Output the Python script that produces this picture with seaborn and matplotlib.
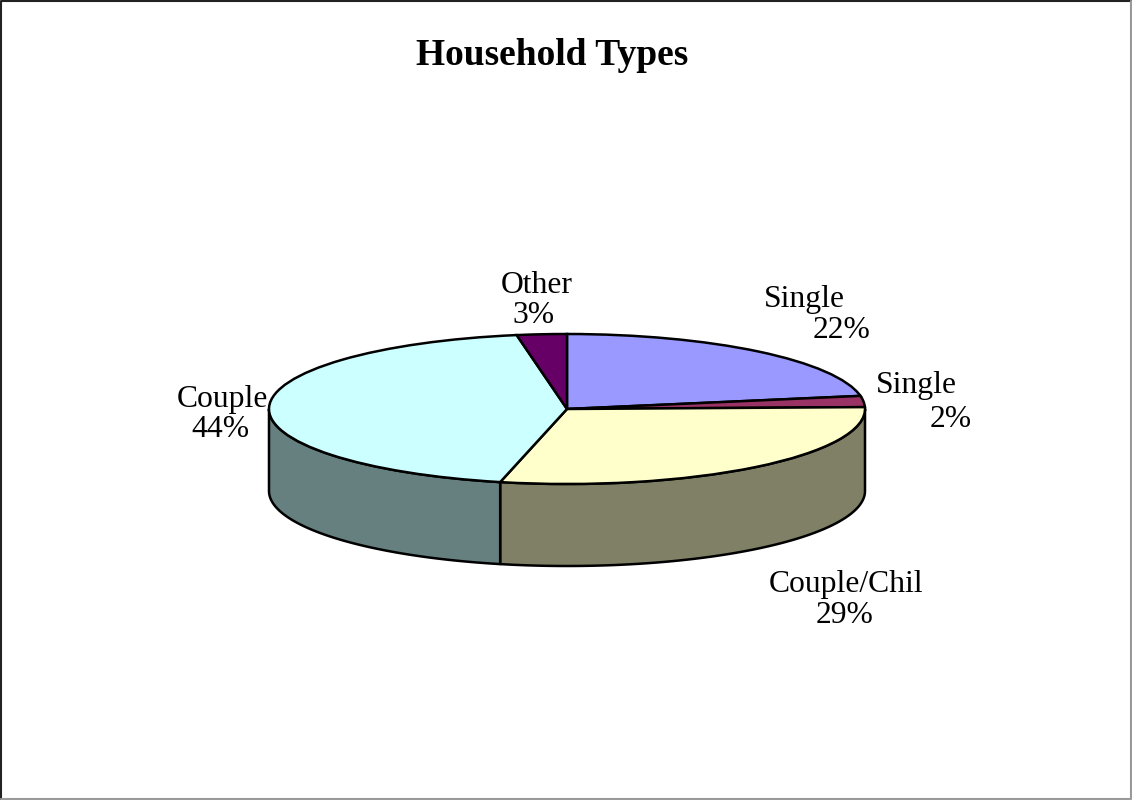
import matplotlib
matplotlib.use("Agg")
import matplotlib.pyplot as plt
import matplotlib.colors as mcolors
import numpy as np
import seaborn as sns

# ---- data ----
categories = ["Single", "Single", "Couple/Chil", "Couple", "Other"]
shares = [22.2, 2.4, 29.0, 43.7, 2.7]
slice_colors = ["#9999FF", "#993366", "#FFFFCC", "#CCFFFF", "#660066"]
title = "Household Types"

sns.set_theme(style="white")
plt.rcParams["font.family"] = ["Liberation Serif", "DejaVu Serif"]

W, H = 1132, 800
fig = plt.figure(figsize=(W / 100, H / 100), dpi=100)
fig.patch.set_facecolor("white")

# pie geometry (pixels)
cx, cy = 567, 409
rx, ry = 298, 75
depth = 82 / ry

ax = fig.add_axes([0, 0, 1, 1])
wedges, _ = ax.pie(shares, colors=slice_colors, startangle=90, counterclock=False,
                   radius=1, center=(0, 0), frame=True,
                   wedgeprops=dict(edgecolor="black", linewidth=1.8, zorder=3))
ax.set_aspect("auto")
ax.set_xlim((0 - cx) / rx, (W - cx) / rx)
ax.set_ylim((cy - H) / ry, cy / ry)
ax.axis("off")

# side walls (front half only)
vals = np.array(shares, dtype=float)
bounds = 90 - 360 * np.concatenate([[0], np.cumsum(vals) / vals.sum()])
for i, col in enumerate(slice_colors):
    hi, lo = bounds[i], bounds[i + 1]
    hi2, lo2 = min(hi, 0), max(lo, -180)
    if hi2 <= lo2:
        continue
    t = np.radians(np.linspace(hi2, lo2, 200))
    xs = np.concatenate([np.cos(t), np.cos(t[::-1])])
    ys = np.concatenate([np.sin(t), np.sin(t[::-1]) - depth])
    side = np.array(mcolors.to_rgb(col)) * 0.5
    ax.fill(xs, ys, facecolor=side, edgecolor="black", linewidth=1.8, zorder=2,
            joinstyle="round")

# overlay for text & frame (pixel coords)
tax = fig.add_axes([0, 0, 1, 1], facecolor="none")
tax.set_xlim(0, W)
tax.set_ylim(H, 0)
tax.axis("off")

tax.text(552, 65, title, ha="center", va="baseline", fontsize=27,
         fontweight="bold", color="black")

pct = [f"{round(v)}%" for v in shares]
label_pos = [((804, 307), (842, 338)),
             ((916, 393), (951, 427)),
             ((846, 592), (845, 623)),
             ((222, 407), (220, 437)),
             ((537, 293), (534, 323))]
for name, p, ((x1, y1), (x2, y2)) in zip(categories, pct, label_pos):
    tax.text(x1, y1, name, ha="center", va="baseline", fontsize=22.8, color="black")
    tax.text(x2, y2, p, ha="center", va="baseline", fontsize=22.8, color="black")

# figure frame
tax.plot([1, 1, W - 1], [H - 1, 1, 1], color="#222222", lw=1.5, clip_on=False)
tax.plot([W - 1, W - 1, 1], [1, H - 1, H - 1], color="#999999", lw=1.5, clip_on=False)

fig.savefig("out.png", dpi=100, facecolor="white")
